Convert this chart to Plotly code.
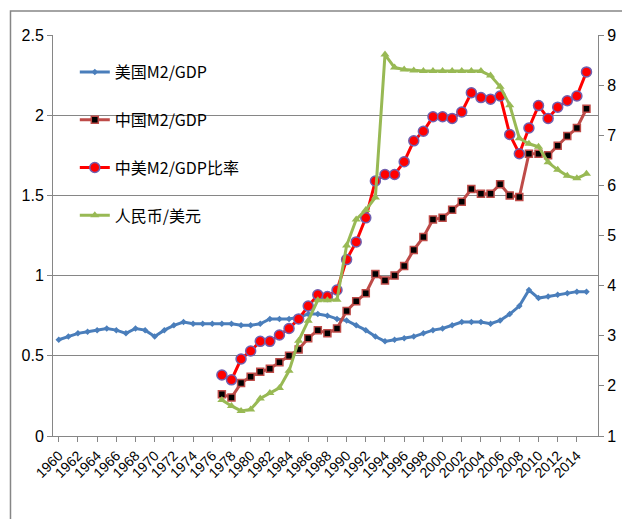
import plotly.graph_objects as go

years_us = list(range(1960, 2016))
us = [0.60,0.62,0.64,0.65,0.66,0.67,0.66,0.64,0.67,0.66,0.62,0.66,0.69,0.71,0.70,0.70,0.70,0.70,0.70,0.69,
      0.69,0.70,0.73,0.73,0.73,0.74,0.76,0.76,0.75,0.73,0.72,0.69,0.66,0.62,0.59,0.60,0.61,0.62,0.64,0.66,
      0.67,0.69,0.71,0.71,0.71,0.70,0.72,0.76,0.81,0.91,0.86,0.87,0.88,0.89,0.90,0.90]
years_cn = list(range(1977, 2016))
cn = [0.26,0.24,0.33,0.37,0.40,0.42,0.46,0.50,0.54,0.61,0.66,0.64,0.67,0.78,0.84,0.89,1.01,0.97,1.00,1.06,
      1.16,1.24,1.35,1.36,1.41,1.46,1.54,1.51,1.51,1.57,1.50,1.49,1.76,1.76,1.75,1.81,1.87,1.92,2.04]
ratio = [0.38,0.35,0.48,0.53,0.59,0.59,0.63,0.67,0.73,0.81,0.88,0.87,0.91,1.10,1.21,1.36,1.59,1.63,1.63,1.71,
         1.84,1.90,1.99,1.99,1.98,2.02,2.14,2.11,2.10,2.12,1.88,1.76,1.92,2.06,1.98,2.05,2.09,2.12,2.27]
fx = [1.72,1.60,1.50,1.53,1.75,1.86,1.96,2.30,2.90,3.30,3.71,3.71,3.72,4.80,5.32,5.51,5.76,8.61,8.35,8.31,
      8.29,8.28,8.28,8.28,8.28,8.28,8.28,8.28,8.19,7.97,7.60,6.94,6.83,6.77,6.46,6.31,6.19,6.14,6.23]
xticks = list(range(1960, 2016, 2))

fig = go.Figure()
fig.add_trace(go.Scatter(x=years_us, y=us, name="美国M2/GDP", mode="lines+markers",
    line=dict(color="#4a7ebb", width=3), marker=dict(symbol="diamond", size=5, color="#4a7ebb"),
    legendgroup="a"))
fig.add_trace(go.Scatter(x=years_cn, y=cn, name="中国M2/GDP", mode="lines+markers",
    line=dict(color="#be4b48", width=3), marker=dict(symbol="square", size=7, color="black",
    line=dict(color="#be4b48", width=1.5)), legendgroup="b"))
fig.add_trace(go.Scatter(x=years_cn, y=ratio, name="中美M2/GDP比率", mode="lines+markers",
    line=dict(color="#ff0000", width=3), marker=dict(symbol="circle", size=10, color="#ff0000",
    line=dict(color="#7060b0", width=1.5)), legendgroup="c"))
fig.add_trace(go.Scatter(x=years_cn, y=fx, name="人民币/美元", mode="lines+markers", yaxis="y2",
    line=dict(color="#98b954", width=3), marker=dict(symbol="triangle-up", size=8, color="#98b954"),
    legendgroup="d"))

fig.update_layout(
    width=630, height=519, paper_bgcolor="white", plot_bgcolor="white",
    margin=dict(l=45, r=40, t=27, b=91, autoexpand=False),
    font=dict(family="Liberation Sans, Noto Sans CJK SC", size=14, color="black"),
    xaxis=dict(range=[1959.4, 2016.2], tickvals=xticks, ticktext=[str(v) for v in xticks],
               tickangle=-45, showgrid=False, showline=True, linecolor="#868686",
               ticks="outside", ticklen=5, tickcolor="#868686", tickfont=dict(size=14)),
    yaxis=dict(range=[0, 2.5], dtick=0.5, showgrid=True, gridcolor="#868686", showline=True,
               linecolor="#868686", ticks="outside", tickcolor="#868686", tickfont=dict(size=16),
               tickformat="~g"),
    yaxis2=dict(range=[1, 9], dtick=1, overlaying="y", side="right", showgrid=False,
                showline=True, linecolor="#868686", ticks="outside", tickcolor="#868686",
                tickfont=dict(size=16)),
    legend=dict(x=0.04, y=0.95, xanchor="left", yanchor="top", bgcolor="rgba(0,0,0,0)",
                tracegroupgap=24, font=dict(size=16, family="Noto Sans CJK SC")),
    shapes=[dict(type="rect", xref="paper", yref="paper", x0=-0.078, x1=1.068, y0=-0.22, y1=1.06,
                 line=dict(color="#868686", width=1.5))],
)
fig.write_html("out.html")
